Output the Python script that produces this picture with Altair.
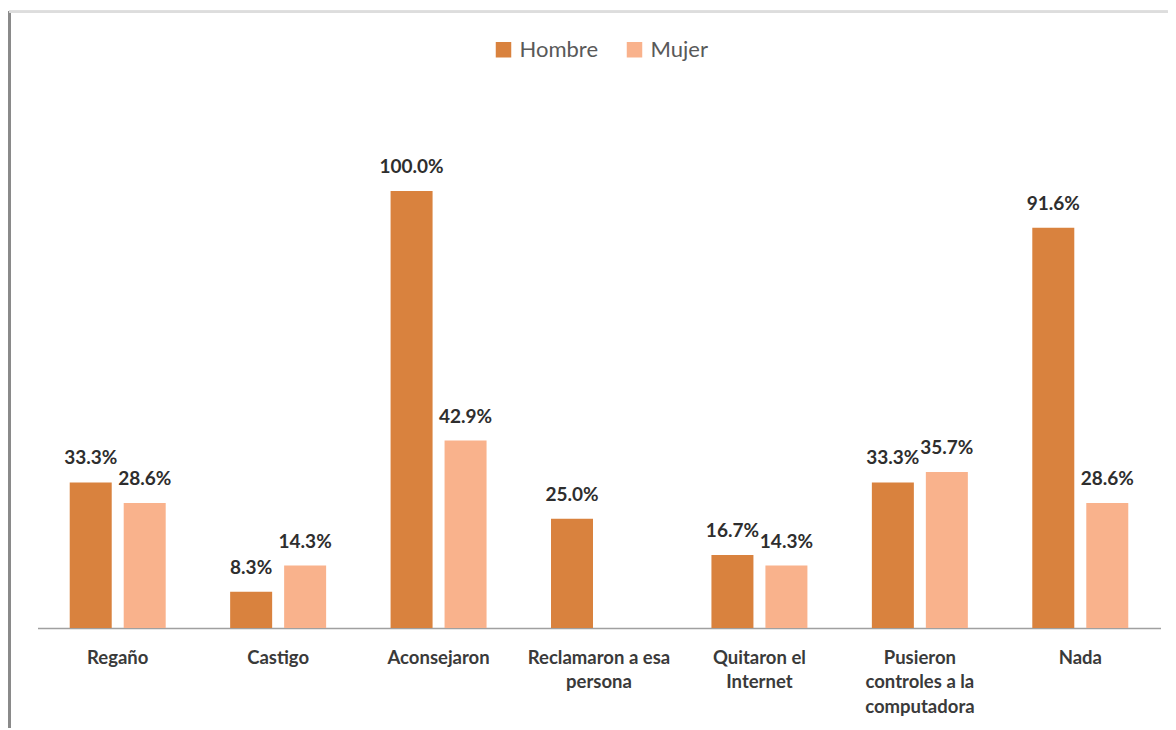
import altair as alt
import pandas as pd

categories = ["Regaño", "Castigo", "Aconsejaron", "Reclamaron a esa\npersona",
              "Quitaron el\nInternet", "Pusieron\ncontroles a la\ncomputadora", "Nada"]
hombre = [33.3, 8.3, 100.0, 25.0, 16.7, 33.3, 91.6]
mujer = [28.6, 14.3, 42.9, None, 14.3, 35.7, 28.6]
series = ["Hombre", "Mujer"]
colors = ["#D9823E", "#F9B28C"]

rows = []
for c, h, m in zip(categories, hombre, mujer):
    rows.append({"cat": c, "serie": "Hombre", "val": h})
    if m is not None:
        rows.append({"cat": c, "serie": "Mujer", "val": m})
df = pd.DataFrame(rows)
df["label"] = df["val"].map(lambda v: f"{v:.1f}%")

W = 1123
H = 546.25

x = alt.X("cat:N", sort=categories, title=None,
          scale=alt.Scale(paddingInner=0.327, paddingOuter=0.1635),
          axis=alt.Axis(labelAngle=0, ticks=False, domainColor="#A0A0A0", domainWidth=1.5,
                        labelFont="Lato", labelFontSize=18.5, labelFontWeight="bold",
                        labelColor="#3A3A3A", labelPadding=20, labelLineHeight=24.5,
                        labelBaseline="top",
                        labelExpr="split(datum.label, '\\n')"))
xo = alt.XOffset("serie:N", sort=series,
                 scale=alt.Scale(paddingInner=0.222, paddingOuter=0.111))
y = alt.Y("val:Q", scale=alt.Scale(domain=[0, 125]), axis=None)

bars = alt.Chart(df).mark_bar().encode(
    x=x, xOffset=xo, y=y,
    color=alt.Color("serie:N", sort=series, title=None,
                    scale=alt.Scale(domain=series, range=colors),
                    legend=alt.Legend(orient="none", direction="horizontal",
                                      legendX=455, legendY=-43,
                                      symbolType="square", symbolSize=240,
                                      symbolStrokeWidth=0, symbolOpacity=1,
                                      labelFont="Lato", labelFontSize=22,
                                      labelColor="#595959", labelOffset=5,
                                      columnPadding=25))
)

labels = alt.Chart(df).mark_text(baseline="bottom", dy=-14, font="Lato",
                                 fontSize=19, fontWeight="bold", color="#2E2E2E").encode(
    x=alt.X("cat:N", sort=categories), xOffset=alt.XOffset("serie:N", sort=series), y=y,
    text="label:N"
)

frame_left = alt.Chart(df).mark_rule(color="#8A8A8A", strokeWidth=3).encode(
    x=alt.value(-28.5), y=alt.value(-70), y2=alt.value(H + 100)
)
frame_top = alt.Chart(df).mark_rule(color="#DDDDDD", strokeWidth=2).encode(
    x=alt.value(-28.5), x2=alt.value(W + 7), y=alt.value(-70)
)

chart = alt.layer(frame_left, frame_top, bars, labels).properties(
    width=W, height=H,
    autosize="none",
    padding={"left": 29.5, "top": 73.75, "right": 7, "bottom": 100},
).configure_view(stroke=None)

chart.save("out.html", embed_options={"renderer": "svg", "actions": False})
